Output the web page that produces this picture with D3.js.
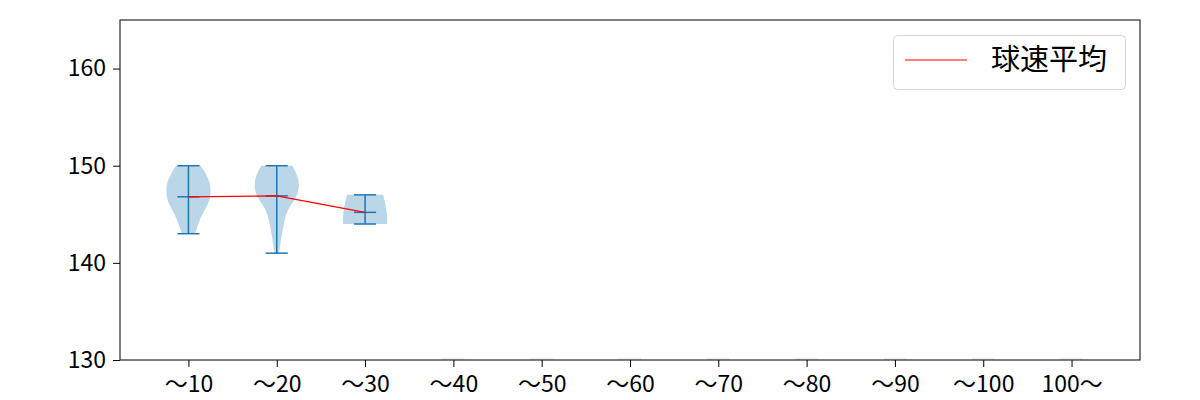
<!DOCTYPE html>
<html>
<head>
<meta charset="utf-8">
<script src="https://cdn.jsdelivr.net/npm/d3@7"></script>
<style>
  body { margin: 0; background: #fff; }
  text { font-family: "Noto Sans CJK JP", "Noto Sans", sans-serif; fill: #000; }
</style>
</head>
<body>
<svg id="svgCanvas" width="1200" height="400"></svg>
<script>
var categories = ["〜10","〜20","〜30","〜40","〜50","〜60","〜70","〜80","〜90","〜100","100〜"];
var yTicks = [130, 140, 150, 160];

// per category: min / max / mean speed (null = no pitches)
var speedMin  = [143, 141, 144, null, null, null, null, null, null, null, null];
var speedMax  = [150, 150, 147, null, null, null, null, null, null, null, null];
var speedMean = [146.8, 146.9, 145.2, null, null, null, null, null, null, null, null];

// violin profiles (speed, relative half width)
var violinSpeeds = [
    [150, 149.5, 149, 148.5, 148, 147.5, 147, 146.5, 146, 145.5, 145, 144.5, 144, 143.5, 143],
    [150, 149.5, 149, 148.5, 148, 147.5, 147, 146.5, 146, 145.5, 145, 144.5, 144, 143.5, 143, 142.5, 142, 141.5, 141],
    [147, 146.5, 146, 145.5, 145, 144.5, 144]
];
var violinWidths = [
    [0.55, 0.7, 0.82, 0.92, 0.98, 1.0, 0.99, 0.95, 0.86, 0.75, 0.63, 0.53, 0.45, 0.37, 0.3],
    [0.7, 0.82, 0.92, 0.98, 1.0, 0.98, 0.92, 0.8, 0.65, 0.52, 0.43, 0.37, 0.32, 0.28, 0.24, 0.2, 0.17, 0.13, 0.11],
    [0.82, 0.87, 0.92, 0.96, 0.99, 1.0, 1.0]
];

var plotLeft = 120, plotRight = 1140, plotTop = 20, plotBottom = 360;
var blue = "#1f77b4";
var violinHalf = 0.25;   // data units
var capHalf = 0.125;

var canvas = d3.select("#svgCanvas");

var x = d3.scaleLinear().domain([0.225, 11.775]).range([plotLeft, plotRight]);
var y = d3.scaleLinear().domain([130, 165]).range([plotBottom, plotTop]);

//violin bodies
for (var i = 0; i < violinSpeeds.length; i++)
{
    var pos = i + 1;
    var pts = violinSpeeds[i].map(function(s, j) { return {s: s, w: violinWidths[i][j]}; });
    var area = d3.area()
        .y(function(d) { return y(d.s); })
        .x0(function(d) { return x(pos - d.w * violinHalf); })
        .x1(function(d) { return x(pos + d.w * violinHalf); })
        .curve(d3.curveCatmullRom);
    canvas.append("path")
        .datum(pts)
        .attr("d", area)
        .attr("fill", blue)
        .attr("fill-opacity", 0.3)
        .attr("stroke", "none");
}

//empty categories: flat stub on the baseline
for (var i = 0; i < categories.length; i++)
{
    if (speedMin[i] !== null) continue;
    canvas.append("line")
        .attr("x1", x(i + 1 - capHalf))
        .attr("x2", x(i + 1 + capHalf))
        .attr("y1", y(130) - 1)
        .attr("y2", y(130) - 1)
        .attr("stroke", blue)
        .attr("stroke-opacity", 0.25)
        .attr("stroke-width", 1);
}

//bars and caps
for (var i = 0; i < categories.length; i++)
{
    if (speedMin[i] === null) continue;
    var pos = i + 1;
    canvas.append("line")
        .attr("x1", x(pos)).attr("x2", x(pos))
        .attr("y1", y(speedMin[i])).attr("y2", y(speedMax[i]))
        .attr("stroke", blue).attr("stroke-width", 1.5);
    [speedMin[i], speedMax[i], speedMean[i]].forEach(function(v) {
        canvas.append("line")
            .attr("x1", x(pos - capHalf)).attr("x2", x(pos + capHalf))
            .attr("y1", y(v)).attr("y2", y(v))
            .attr("stroke", blue).attr("stroke-width", 1.5);
    });
}

//mean line
var meanPts = [];
for (var i = 0; i < categories.length; i++)
    if (speedMean[i] !== null) meanPts.push([i + 1, speedMean[i]]);

canvas.append("path")
    .datum(meanPts)
    .attr("d", d3.line().x(function(d) { return x(d[0]); }).y(function(d) { return y(d[1]); }))
    .attr("fill", "none")
    .attr("stroke", "red")
    .attr("stroke-width", 1.2);

//axes
var xAxis = d3.axisBottom(x)
    .tickValues(categories.map(function(c, i) { return i + 1; }))
    .tickFormat(function(d) { return categories[d - 1]; })
    .tickSize(7).tickPadding(9);
var yAxis = d3.axisLeft(y).tickValues(yTicks).tickSize(7).tickPadding(7);

var gx = canvas.append("g").attr("transform", "translate(0," + plotBottom + ")").call(xAxis);
var gy = canvas.append("g").attr("transform", "translate(" + plotLeft + ",0)").call(yAxis);
[gx, gy].forEach(function(g) {
    g.select(".domain").remove();
    g.selectAll(".tick line").attr("stroke", "#000").attr("stroke-width", 1);
    g.selectAll(".tick text").attr("font-size", "23px").attr("fill", "#000")
        .style("font-family", '"Noto Sans CJK JP", sans-serif');
});

//frame
canvas.append("rect")
    .attr("x", plotLeft).attr("y", plotTop)
    .attr("width", plotRight - plotLeft).attr("height", plotBottom - plotTop)
    .attr("fill", "none").attr("stroke", "#000").attr("stroke-width", 1);

//legend
var lg = canvas.append("g");
lg.append("rect")
    .attr("x", 893.5).attr("y", 35.5).attr("width", 232).attr("height", 54)
    .attr("rx", 4).attr("fill", "#fff").attr("fill-opacity", 0.8)
    .attr("stroke", "#d5d5d5").attr("stroke-width", 1);
lg.append("line")
    .attr("x1", 905).attr("x2", 967).attr("y1", 60).attr("y2", 60)
    .attr("stroke", "red").attr("stroke-width", 1.2);
lg.append("text")
    .attr("x", 991).attr("y", 70)
    .attr("font-size", "29px")
    .text("球速平均");
</script>
</body>
</html>
